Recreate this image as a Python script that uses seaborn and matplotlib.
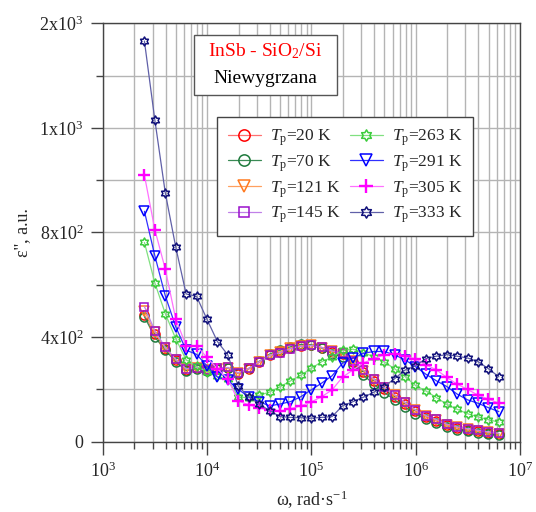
import numpy as np
import pandas as pd
import matplotlib
matplotlib.use("Agg")
import matplotlib.pyplot as plt
import seaborn as sns
from matplotlib.path import Path
from matplotlib.patches import Rectangle
from matplotlib.ticker import FixedLocator, FixedFormatter, LogLocator, NullFormatter

# angular frequency, rad/s
omega = [2501, 3149, 3965, 4991, 6283, 7910, 9958, 12537, 15783, 19869,
         25014, 31491, 39645, 49910, 62832, 79100, 99582, 125367, 157827, 198692,
         250141, 314909, 396449, 499096, 628319, 791004, 995811, 1253668, 1578273, 1986919,
         2501381, 3149090, 3964467, 4990948, 6283185]

temps = ["20", "70", "121", "145", "263", "291", "305", "333"]

eps_20 = [485, 410, 356, 312, 276, 281, 273, 278, 281, 260, 277, 303, 330, 343, 358, 367, 369, 360,
          343, 334, 303, 268, 232, 200, 172, 143, 116, 94, 79, 62, 52, 45, 40, 34, 29]
eps_70 = [478, 400, 350, 306, 272, 278, 272, 279, 283, 262, 280, 307, 335, 350, 363, 372, 371, 358,
          336, 325, 292, 255, 220, 188, 160, 132, 106, 85, 70, 55, 46, 40, 34, 29, 25]
eps_121 = [500, 418, 358, 314, 277, 282, 275, 279, 283, 262, 279, 305, 331, 343, 357, 366, 368, 360,
           345, 337, 307, 272, 237, 205, 177, 148, 120, 98, 83, 65, 55, 48, 42, 36, 31]
eps_145 = [517, 424, 361, 315, 279, 283, 276, 280, 284, 263, 280, 305, 330, 340, 355, 365, 368, 361,
           347, 340, 310, 275, 240, 208, 180, 151, 122, 100, 85, 67, 57, 50, 44, 37, 32]
eps_263 = [762, 607, 490, 394, 313, 288, 268, 250, 238, 171, 168, 177, 190, 210, 232, 254, 280, 306,
           323, 349, 354, 340, 325, 305, 279, 249, 215, 194, 169, 143, 124, 107, 95, 84, 75]
eps_291 = [881, 711, 558, 440, 350, 334, 290, 247, 235, 200, 172, 153, 137, 144, 153, 172, 198, 224,
           252, 300, 320, 338, 345, 345, 332, 313, 287, 258, 233, 211, 182, 160, 147, 130, 115]
eps_305 = [1019, 811, 660, 470, 367, 367, 322, 279, 240, 156, 141, 129, 122, 117, 126, 137, 152, 172,
           198, 247, 274, 301, 318, 332, 336, 328, 316, 294, 275, 246, 220, 200, 178, 163, 147]
eps_333 = [1532, 1230, 952, 745, 565, 556, 468, 383, 332, 212, 172, 144, 119, 96, 93, 92, 90, 93,
           96, 137, 153, 170, 189, 211, 241, 274, 290, 318, 327, 333, 327, 320, 306, 279, 248]

series = [eps_20, eps_70, eps_121, eps_145, eps_263, eps_291, eps_305, eps_333]

y_ticks = [0, 400, 800, 1200, 1600]
y_labels = ["0", "4x10$^2$", "8x10$^2$", "1x10$^3$", "2x10$^3$"]

# ---------- style ----------
sns.set_theme(style="white")
plt.rcParams["font.family"] = ["Liberation Serif", "DejaVu Serif"]
plt.rcParams["mathtext.fontset"] = "custom"
plt.rcParams["mathtext.rm"] = "Liberation Serif"
plt.rcParams["mathtext.it"] = "Liberation Serif:italic"
plt.rcParams["mathtext.default"] = "regular"

# hexagram marker
ang = np.deg2rad(90 + 30 * np.arange(12))
rad = np.where(np.arange(12) % 2 == 0, 1.0, 1 / np.sqrt(3))
verts = np.column_stack([rad * np.cos(ang), rad * np.sin(ang)])
verts = np.vstack([verts, verts[:1]])
hexagram = Path(verts, closed=True)

markers = ["o", "o", "v", "s", hexagram, "v", "+", hexagram]
mcolors = ["#ff0000", "#1e7a3c", "#ff7a20", "#9a10cc", "#3ccc3c", "#0000ff", "#ff00ff", "#10107a"]
lcolors = ["#ff7070", "#3a8a55", "#ffa060", "#c080e8", "#80e080", "#3030ff", "#ff70ff", "#6060a8"]
msizes = [6.5, 6.5, 6.5, 6.2, 6.5, 6.5, 8, 6.5]
mews = [1.1, 1.1, 1.1, 1.1, 1.1, 1.1, 1.7, 1.1]

fig = plt.figure(figsize=(5.36, 5.12), dpi=100)
ax = fig.add_axes([0.192, 0.1373, 0.778, 0.8172])

for T, vals, mk, mc, lc, ms, mw in zip(temps, series, markers, mcolors, lcolors, msizes, mews):
    df = pd.DataFrame({"omega": omega, "eps": vals})
    sns.lineplot(data=df, x="omega", y="eps", ax=ax, sort=False,
                 color=lc, linewidth=0.9, marker=mk, markersize=ms,
                 markeredgecolor=mc, markerfacecolor="none", markeredgewidth=mw,
                 label=r"$\mathit{T}_{\mathrm{p}}$=" + T + " K", zorder=3)

ax.set_xscale("log")
ax.set_xlim(1e3, 1e7)
ax.set_ylim(0, 1600)

ax.xaxis.set_major_locator(LogLocator(base=10, numticks=10))
ax.xaxis.set_minor_locator(LogLocator(base=10, subs=np.arange(2, 10), numticks=20))
ax.xaxis.set_minor_formatter(NullFormatter())
ax.set_xticks([1e3, 1e4, 1e5, 1e6, 1e7])
ax.set_xticklabels(["10$^3$", "10$^4$", "10$^5$", "10$^6$", "10$^7$"])

ax.yaxis.set_major_locator(FixedLocator(y_ticks))
ax.yaxis.set_major_formatter(FixedFormatter(y_labels))
ax.yaxis.set_minor_locator(FixedLocator([200, 600, 1000, 1400]))

ax.grid(True, which="both", color="#b4b4b4", linewidth=1.0, zorder=0)
ax.set_axisbelow(True)

ax.tick_params(axis="both", which="major", direction="out", length=9, width=1,
               color="#444444", labelsize=13, pad=5, bottom=True, left=True, top=False, right=False)
ax.tick_params(axis="both", which="minor", direction="out", length=5, width=1,
               color="#444444", bottom=True, left=True, top=False, right=False)

for s in ax.spines.values():
    s.set_color("#444444")
    s.set_linewidth(1.0)

ax.set_xlabel("ω, rad·s$^{-1}$", fontsize=13, labelpad=6)
ax.set_ylabel("ε'', a.u.", fontsize=13, labelpad=6)

leg = ax.legend(ncol=2, loc="upper left", bbox_to_anchor=(0.274, 0.776),
                borderaxespad=0.0,
                fontsize=12.5, frameon=True, fancybox=False, framealpha=1,
                edgecolor="#444444", handlelength=1.9, columnspacing=0.5,
                labelspacing=0.3, borderpad=0.6, handletextpad=0.55,
                markerscale=1.25)
leg.get_frame().set_linewidth(1.0)
leg.set_zorder(10)

# title box
ax.add_patch(Rectangle((0.218, 0.829), 0.343, 0.143, transform=ax.transAxes,
                       facecolor="white", edgecolor="#555555", linewidth=1.0, zorder=9))
ax.text(0.389, 0.934, "InSb - SiO$_2$/Si", color="#ff0000", fontsize=14,
        ha="center", va="center", transform=ax.transAxes, zorder=10)
ax.text(0.389, 0.868, "Niewygrzana", color="black", fontsize=14,
        ha="center", va="center", transform=ax.transAxes, zorder=10)

fig.savefig("out.png", dpi=100)
